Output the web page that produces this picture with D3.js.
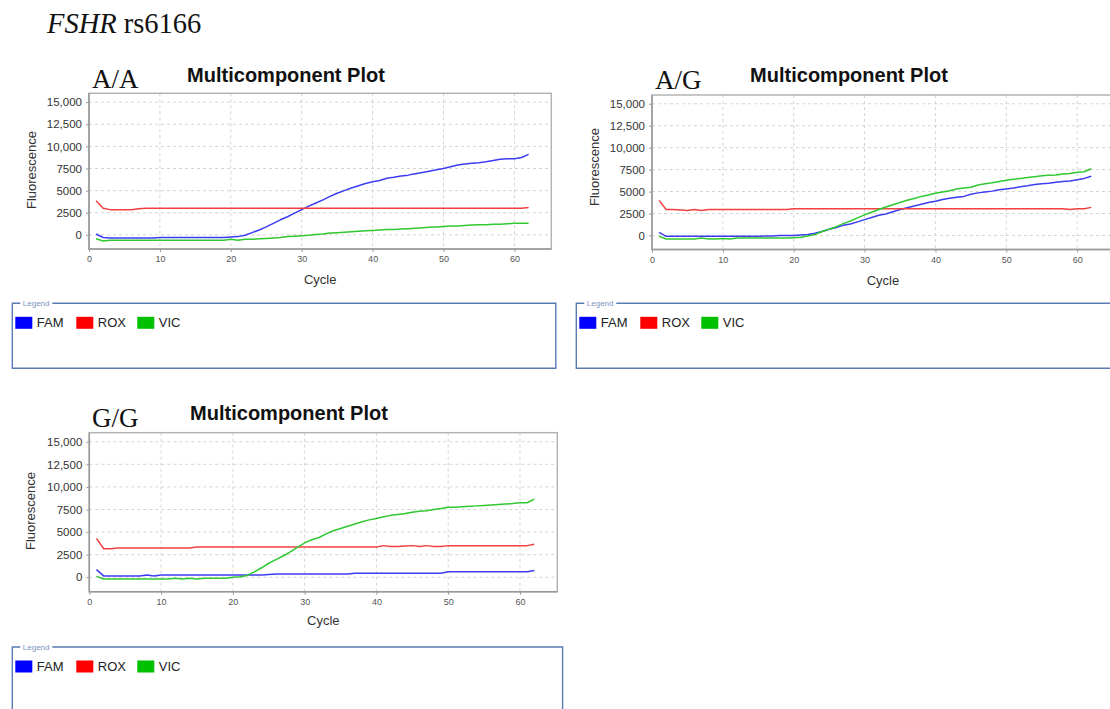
<!DOCTYPE html>
<html><head><meta charset="utf-8">
<script src="https://cdn.jsdelivr.net/npm/d3@7"></script>
<style>body{margin:0;background:#fff}svg{display:block}</style>
</head><body><svg id="c" width="1110" height="709"></svg>
<script>
const cycles = [1,2,3,4,5,6,7,8,9,10,11,12,13,14,15,16,17,18,19,20,21,22,23,24,25,26,27,28,29,30,
  31,32,33,34,35,36,37,38,39,40,41,42,43,44,45,46,47,48,49,50,51,52,53,54,55,56,57,58,59,60,61,62];
const seriesNames = ["FAM","ROX","VIC"];
const yTicks = [0,2500,5000,7500,10000,12500,15000];
const yTickLabels = ["0","2500","5000","7500","10,000","12,500","15,000"];
const xTicks = [0,10,20,30,40,50,60];
const genotypes = ["A/A","A/G","G/G"];

const aaFAM = [100,-300,-350,-350,-350,-350,-350,-350,-350,-300,
  -300,-300,-300,-300,-300,-300,-300,-300,-300,-250,
  -200,-50,250,550,900,1300,1700,2050,2450,2850,
  3250,3600,3950,4350,4700,5000,5300,5550,5800,6000,
  6150,6400,6500,6650,6750,6900,7050,7200,7350,7500,
  7700,7900,8000,8100,8150,8250,8400,8550,8600,8600,
  8750,9100];
const aaROX = [3850,3000,2850,2850,2850,2850,2950,3000,3000,3000,
  3000,3000,3000,3000,3000,3000,3000,3000,3000,3000,
  3000,3000,3000,3000,3000,3000,3000,3000,3000,3000,
  3000,3000,3000,3000,3000,3000,3000,3000,3000,3000,
  3000,3000,3000,3000,3000,3000,3000,3000,3000,3000,
  3000,3000,3000,3000,3000,3000,3000,3000,3000,3000,
  3000,3100];
const aaVIC = [-450,-700,-600,-600,-600,-600,-600,-600,-600,-600,
  -600,-600,-600,-600,-600,-600,-600,-600,-600,-500,
  -600,-500,-500,-450,-400,-350,-300,-200,-150,-100,
  -50,50,100,200,250,300,350,400,450,500,
  550,600,600,650,700,750,800,850,900,950,
  1000,1000,1050,1100,1150,1150,1200,1200,1250,1300,
  1300,1300];

const agFAM = [350,-100,-100,-100,-100,-100,-100,-100,-100,-100,
  -100,-100,-100,-100,-100,-50,-50,0,0,0,
  50,100,250,450,700,900,1150,1300,1550,1800,
  2050,2300,2450,2700,2950,3150,3350,3550,3750,3900,
  4100,4250,4350,4450,4700,4850,4950,5050,5200,5300,
  5400,5550,5650,5800,5900,5950,6050,6150,6200,6350,
  6500,6750];
const agROX = [4000,2950,2950,2900,2850,2950,2850,2950,2950,2950,
  2950,2950,2950,2950,2950,2950,2950,2950,2950,3050,
  3050,3050,3050,3050,3050,3050,3050,3050,3050,3050,
  3050,3050,3050,3050,3050,3050,3050,3050,3050,3050,
  3050,3050,3050,3050,3050,3050,3050,3050,3050,3050,
  3050,3050,3050,3050,3050,3050,3050,3050,2950,3050,
  3050,3200];
const agVIC = [-100,-400,-400,-400,-400,-400,-300,-400,-400,-350,
  -400,-300,-300,-300,-300,-300,-300,-300,-300,-250,
  -200,-50,100,450,700,1000,1350,1650,2000,2350,
  2650,2950,3250,3500,3750,4000,4200,4450,4600,4800,
  4950,5100,5300,5400,5500,5750,5900,6000,6150,6300,
  6400,6500,6600,6700,6800,6850,6900,7000,7050,7200,
  7250,7600];

const ggFAM = [850,150,150,150,150,150,150,250,150,250,
  250,250,250,250,250,250,250,250,250,250,
  250,250,250,250,300,350,350,350,350,350,
  350,350,350,350,350,350,450,450,450,450,
  450,450,450,450,450,450,450,450,450,600,
  600,600,600,600,600,600,600,600,600,600,
  600,750];
const ggROX = [4300,3150,3150,3250,3250,3250,3250,3250,3250,3250,
  3250,3250,3250,3250,3350,3350,3350,3350,3350,3350,
  3350,3350,3350,3350,3350,3350,3350,3350,3350,3350,
  3350,3350,3350,3350,3350,3350,3350,3350,3350,3350,
  3500,3400,3400,3450,3500,3400,3500,3400,3400,3500,
  3500,3500,3500,3500,3500,3500,3500,3500,3500,3500,
  3500,3650];
const ggVIC = [100,-200,-200,-200,-200,-200,-200,-200,-200,-200,
  -200,-100,-200,-100,-200,-100,-100,-100,-100,0,
  50,200,600,1050,1550,1950,2350,2800,3300,3800,
  4150,4400,4800,5150,5400,5650,5900,6150,6350,6500,
  6700,6850,6950,7050,7200,7300,7350,7500,7600,7750,
  7750,7800,7850,7900,7950,8000,8050,8100,8150,8250,
  8250,8650];

const lineColors = {FAM:"#3c3cf2", ROX:"#f24040", VIC:"#30c830"};
const swatchColors = {FAM:"#0000ff", ROX:"#ff0000", VIC:"#00c000"};

const panels = [
  {g:genotypes[0], data:{FAM:aaFAM, ROX:aaROX, VIC:aaVIC},
   L:89, R:551.3, T:93.3, B:249, lab:[92,88], title:[286,82], fl:[31,170], cyc:284,
   leg:{x:12.3, y:303.3, w:543.5, h:65}},
  {g:genotypes[1], data:{FAM:agFAM, ROX:agROX, VIC:agVIC},
   L:652, R:1114, T:95, B:249.5, lab:[655,89], title:[849,82], fl:[594,167], cyc:285,
   leg:{x:576.3, y:303.3, w:545, h:65}},
  {g:genotypes[2], data:{FAM:ggFAM, ROX:ggROX, VIC:ggVIC},
   L:89.3, R:557.3, T:432.7, B:591.7, lab:[92,427], title:[289,420], fl:[30,511], cyc:625,
   leg:{x:12.3, y:647, w:550.3, h:80}}
];

const svg = d3.select("#c");

const t = svg.append("text").attr("x",47).attr("y",33)
  .attr("font-family","'Liberation Serif','Times New Roman',serif").attr("font-size",28.5).attr("fill","#111");
t.append("tspan").attr("font-style","italic").text("FSHR");
t.append("tspan").text(" rs6166");

const sans = "'Liberation Sans',Arial,Helvetica,sans-serif";

panels.forEach(p => {
  const g = svg.append("g");
  const x = d3.scaleLinear().domain([0,65.2]).range([p.L,p.R]);
  const y = d3.scaleLinear().domain([-1600,16000]).range([p.B,p.T]);

  g.append("g").selectAll("line").data(yTicks).join("line")
    .attr("x1",p.L).attr("x2",p.R).attr("y1",d=>y(d)).attr("y2",d=>y(d))
    .attr("stroke","#d4d4d4").attr("stroke-width",1).attr("stroke-dasharray","3,3");
  g.append("g").selectAll("line").data(xTicks.filter(d=>d>0)).join("line")
    .attr("x1",d=>x(d)).attr("x2",d=>x(d)).attr("y1",p.T).attr("y2",p.B)
    .attr("stroke","#d4d4d4").attr("stroke-width",1).attr("stroke-dasharray","3,3");

  g.append("rect").attr("x",p.L).attr("y",p.T).attr("width",p.R-p.L).attr("height",p.B-p.T)
    .attr("fill","none").attr("stroke","#b4b4b4").attr("stroke-width",1.5);
  g.append("path").attr("d",`M${p.L},${p.T}V${p.B}H${p.R}`)
    .attr("fill","none").attr("stroke","#999").attr("stroke-width",1.5);

  const ya = g.append("g").attr("transform",`translate(${p.L},0)`)
    .call(d3.axisLeft(y).tickValues(yTicks).tickSize(3).tickPadding(4)
      .tickFormat((d,i)=>yTickLabels[i]));
  ya.select(".domain").remove();
  ya.selectAll("line").attr("stroke","#999");
  ya.selectAll("text").attr("font-family",sans).attr("font-size",11.5).attr("fill","#333");

  const xa = g.append("g").attr("transform",`translate(0,${p.B})`)
    .call(d3.axisBottom(x).tickValues(xTicks).tickSize(3).tickPadding(4));
  xa.select(".domain").remove();
  xa.selectAll("line").attr("stroke","#999");
  xa.selectAll("text").attr("font-family",sans).attr("font-size",9).attr("fill","#555");

  const line = d3.line().x((d,i)=>x(cycles[i])).y(d=>y(d));
  seriesNames.forEach(s => {
    g.append("path").datum(p.data[s]).attr("d",line)
      .attr("fill","none").attr("stroke",lineColors[s]).attr("stroke-width",1.5)
      .attr("stroke-linejoin","round");
  });

  g.append("text").attr("x",p.lab[0]).attr("y",p.lab[1])
    .attr("font-family","'Liberation Serif','Times New Roman',serif").attr("font-size",27).attr("fill","#111")
    .text(p.g);
  g.append("text").attr("x",p.title[0]).attr("y",p.title[1]).attr("text-anchor","middle")
    .attr("font-family",sans).attr("font-weight","bold").attr("font-size",20).attr("fill","#111")
    .text("Multicomponent Plot");
  g.append("text").attr("transform",`translate(${p.fl[0]+4.5},${p.fl[1]}) rotate(-90)`)
    .attr("text-anchor","middle").attr("font-family",sans).attr("font-size",13).attr("fill","#333")
    .text("Fluorescence");
  g.append("text").attr("x",(p.L+p.R)/2).attr("y",p.cyc).attr("text-anchor","middle")
    .attr("font-family",sans).attr("font-size",13).attr("fill","#333").text("Cycle");

  const lg = p.leg;
  g.append("path")
    .attr("d",`M${lg.x+8},${lg.y}H${lg.x}V${lg.y+lg.h}H${lg.x+lg.w}V${lg.y}H${lg.x+40}`)
    .attr("fill","none").attr("stroke","#5a7ab4").attr("stroke-width",1.4);
  g.append("text").attr("x",lg.x+10.5).attr("y",lg.y+3).attr("font-family",sans)
    .attr("font-size",8).attr("fill","#7a94c2").text("Legend");
  const offs = [3,64,125];
  seriesNames.forEach((s,i) => {
    g.append("rect").attr("x",lg.x+offs[i]).attr("y",lg.y+13.5).attr("width",17).attr("height",12)
      .attr("fill",swatchColors[s]);
    g.append("text").attr("x",lg.x+offs[i]+21.5).attr("y",lg.y+24).attr("font-family",sans)
      .attr("font-size",13).attr("fill","#222").text(s);
  });
});
</script></body></html>
